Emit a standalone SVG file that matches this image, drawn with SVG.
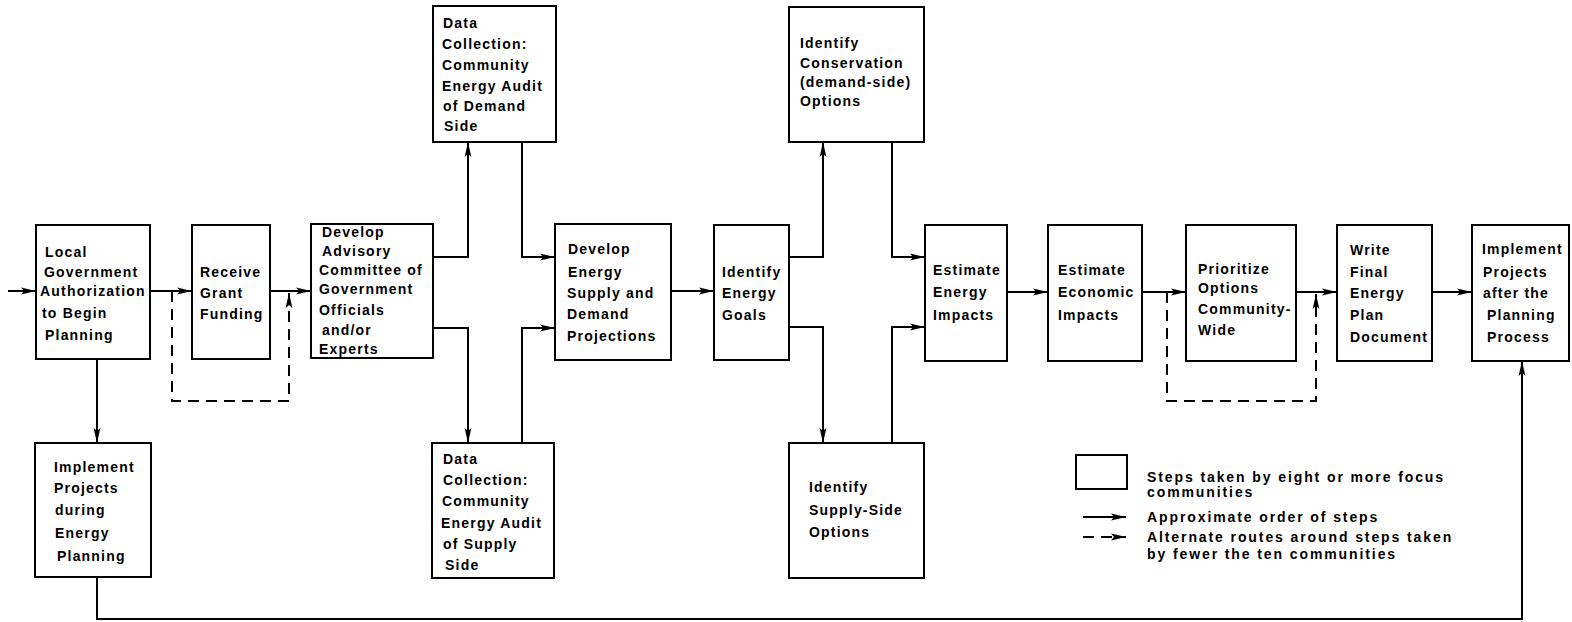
<svg xmlns="http://www.w3.org/2000/svg" width="1572" height="622" viewBox="0 0 1572 622">
  <style>
    .box { fill: #fff; stroke: #000; stroke-width: 2; }
    .lbl { font-family: "Liberation Sans", Arial, sans-serif; font-size: 14px; font-weight: bold; letter-spacing: 1.2px; fill: #000; }
    .key { letter-spacing: 1.9px; }
    .flow { fill: none; stroke: #000; stroke-width: 2; }
    .alt { fill: none; stroke: #000; stroke-width: 2; stroke-dasharray: 11 7; }
  </style>
  <defs>
    <marker id="arr" markerUnits="userSpaceOnUse" markerWidth="16" markerHeight="8" refX="15" refY="4" orient="auto">
      <path d="M0,0.6 L15,4 L0,7.4 L3,4 z" fill="#000"/>
    </marker>
  </defs>
  <rect width="1572" height="622" fill="#fff"/>

  <!-- connectors -->
  <g id="connectors">
    <!-- main left-to-right sequence -->
    <path class="flow" d="M8,291 H36" marker-end="url(#arr)"/>
    <path class="flow" d="M150,291 H192" marker-end="url(#arr)"/>
    <path class="flow" d="M270,291 H311" marker-end="url(#arr)"/>
    <path class="flow" d="M671,291 H714" marker-end="url(#arr)"/>
    <path class="flow" d="M1007,292 H1048" marker-end="url(#arr)"/>
    <path class="flow" d="M1142,292 H1186" marker-end="url(#arr)"/>
    <path class="flow" d="M1296,292 H1337" marker-end="url(#arr)"/>
    <path class="flow" d="M1432,292 H1472" marker-end="url(#arr)"/>
    <!-- implementation during planning -->
    <path class="flow" d="M97,359 V443" marker-end="url(#arr)"/>
    <path class="flow" d="M97,577 V619 H1522 V361" marker-end="url(#arr)"/>
    <!-- data collection branches -->
    <path class="flow" d="M433,257 H468 V142" marker-end="url(#arr)"/>
    <path class="flow" d="M522,142 V257 H555" marker-end="url(#arr)"/>
    <path class="flow" d="M433,328 H468 V443" marker-end="url(#arr)"/>
    <path class="flow" d="M522,443 V328 H555" marker-end="url(#arr)"/>
    <!-- option branches -->
    <path class="flow" d="M789,257 H823 V142" marker-end="url(#arr)"/>
    <path class="flow" d="M892,142 V257 H925" marker-end="url(#arr)"/>
    <path class="flow" d="M789,327 H823 V443" marker-end="url(#arr)"/>
    <path class="flow" d="M892,443 V327 H925" marker-end="url(#arr)"/>
    <!-- alternate routes -->
    <path class="alt" d="M172,291 V401 H289 V293" marker-end="url(#arr)"/>
    <path class="alt" d="M1167,292 V401 H1316 V294" marker-end="url(#arr)"/>
  </g>

  <g id="local-authorization">
    <rect class="box" x="36" y="225" width="114" height="134"/>
    <text class="lbl"><tspan x="45" y="257">Local</tspan><tspan x="44" y="277">Government</tspan><tspan x="40" y="296">Authorization</tspan><tspan x="42" y="318">to Begin</tspan><tspan x="45" y="340">Planning</tspan></text>
  </g>

  <g id="receive-grant">
    <rect class="box" x="192" y="225" width="78" height="134"/>
    <text class="lbl"><tspan x="200" y="277">Receive</tspan><tspan x="200" y="298">Grant</tspan><tspan x="200" y="319">Funding</tspan></text>
  </g>

  <g id="advisory-committee">
    <rect class="box" x="311" y="224" width="122" height="134"/>
    <text class="lbl"><tspan x="322" y="237">Develop</tspan><tspan x="322" y="256">Advisory</tspan><tspan x="319" y="275">Committee of</tspan><tspan x="319" y="294">Government</tspan><tspan x="319" y="315">Officials</tspan><tspan x="322" y="335">and/or</tspan><tspan x="319" y="354">Experts</tspan></text>
  </g>

  <g id="audit-demand">
    <rect class="box" x="433" y="6" width="123" height="136"/>
    <text class="lbl"><tspan x="443" y="28">Data</tspan><tspan x="442" y="49">Collection:</tspan><tspan x="442" y="70">Community</tspan><tspan x="442" y="91">Energy Audit</tspan><tspan x="443" y="111">of Demand</tspan><tspan x="444" y="131">Side</tspan></text>
  </g>

  <g id="audit-supply">
    <rect class="box" x="432" y="443" width="122" height="135"/>
    <text class="lbl"><tspan x="443" y="464">Data</tspan><tspan x="443" y="485">Collection:</tspan><tspan x="442" y="506">Community</tspan><tspan x="441" y="528">Energy Audit</tspan><tspan x="443" y="549">of Supply</tspan><tspan x="445" y="570">Side</tspan></text>
  </g>

  <g id="projections">
    <rect class="box" x="555" y="224" width="116" height="136"/>
    <text class="lbl"><tspan x="568" y="254">Develop</tspan><tspan x="568" y="277">Energy</tspan><tspan x="567" y="298">Supply and</tspan><tspan x="567" y="319">Demand</tspan><tspan x="567" y="341">Projections</tspan></text>
  </g>

  <g id="energy-goals">
    <rect class="box" x="714" y="225" width="75" height="135"/>
    <text class="lbl"><tspan x="722" y="277">Identify</tspan><tspan x="722" y="298">Energy</tspan><tspan x="722" y="320">Goals</tspan></text>
  </g>

  <g id="conservation-options">
    <rect class="box" x="789" y="7" width="135" height="135"/>
    <text class="lbl"><tspan x="800" y="48">Identify</tspan><tspan x="800" y="68">Conservation</tspan><tspan x="800" y="87">(demand-side)</tspan><tspan x="800" y="106">Options</tspan></text>
  </g>

  <g id="supply-options">
    <rect class="box" x="789" y="443" width="135" height="135"/>
    <text class="lbl"><tspan x="809" y="492">Identify</tspan><tspan x="809" y="515">Supply-Side</tspan><tspan x="809" y="537">Options</tspan></text>
  </g>

  <g id="energy-impacts">
    <rect class="box" x="925" y="225" width="82" height="136"/>
    <text class="lbl"><tspan x="933" y="275">Estimate</tspan><tspan x="933" y="297">Energy</tspan><tspan x="933" y="320">Impacts</tspan></text>
  </g>

  <g id="economic-impacts">
    <rect class="box" x="1048" y="225" width="94" height="136"/>
    <text class="lbl"><tspan x="1058" y="275">Estimate</tspan><tspan x="1058" y="297">Economic</tspan><tspan x="1058" y="320">Impacts</tspan></text>
  </g>

  <g id="prioritize">
    <rect class="box" x="1186" y="225" width="110" height="136"/>
    <text class="lbl"><tspan x="1198" y="274">Prioritize</tspan><tspan x="1198" y="293">Options</tspan><tspan x="1198" y="314">Community-</tspan><tspan x="1198" y="335">Wide</tspan></text>
  </g>

  <g id="final-plan">
    <rect class="box" x="1337" y="225" width="95" height="136"/>
    <text class="lbl"><tspan x="1350" y="255">Write</tspan><tspan x="1350" y="277">Final</tspan><tspan x="1350" y="298">Energy</tspan><tspan x="1350" y="320">Plan</tspan><tspan x="1350" y="342">Document</tspan></text>
  </g>

  <g id="implement-after">
    <rect class="box" x="1472" y="225" width="97" height="136"/>
    <text class="lbl"><tspan x="1482" y="254">Implement</tspan><tspan x="1483" y="277">Projects</tspan><tspan x="1483" y="298">after the</tspan><tspan x="1487" y="320">Planning</tspan><tspan x="1487" y="342">Process</tspan></text>
  </g>

  <g id="implement-during">
    <rect class="box" x="35" y="443" width="116" height="134"/>
    <text class="lbl"><tspan x="54" y="472">Implement</tspan><tspan x="54" y="493">Projects</tspan><tspan x="55" y="515">during</tspan><tspan x="55" y="538">Energy</tspan><tspan x="57" y="561">Planning</tspan></text>
  </g>

  <!-- key -->
  <g id="legend">
    <rect class="box" x="1076" y="455" width="51" height="34"/>
    <text class="lbl key"><tspan x="1147" y="482">Steps taken by eight or more focus</tspan><tspan x="1147" y="497">communities</tspan></text>
    <path class="flow" d="M1083,517 H1126" marker-end="url(#arr)"/>
    <text class="lbl key" x="1147" y="522">Approximate order of steps</text>
    <path class="alt" d="M1083,537 H1126" marker-end="url(#arr)"/>
    <text class="lbl key"><tspan x="1147" y="542">Alternate routes around steps taken</tspan><tspan x="1147" y="559">by fewer the ten communities</tspan></text>
  </g>
</svg>
